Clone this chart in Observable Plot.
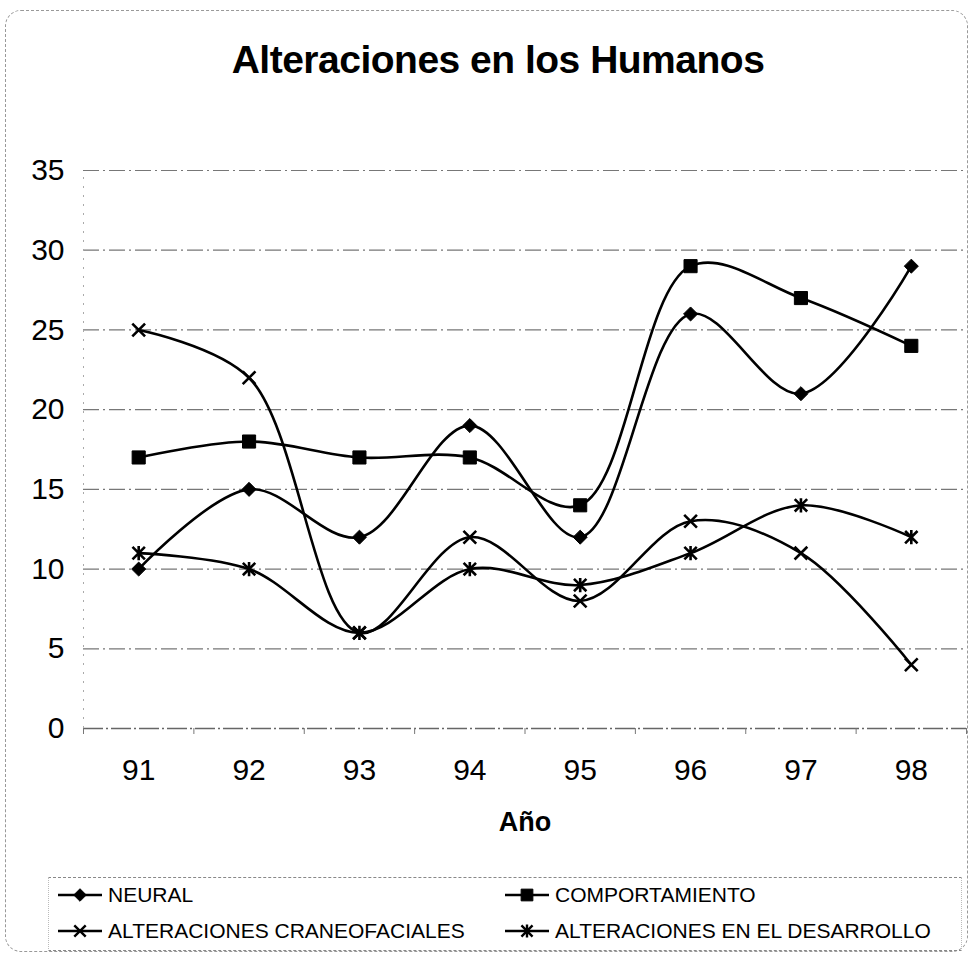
<!DOCTYPE html>
<html>
<head>
<meta charset="utf-8">
<script src="https://cdn.jsdelivr.net/npm/d3@7"></script>
<script src="https://cdn.jsdelivr.net/npm/@observablehq/plot@0.6"></script>
<style>
  html, body { margin: 0; padding: 0; background: #fff; }
  #wrap { position: relative; width: 975px; height: 957px; overflow: hidden; font-family: "Liberation Sans", Arial, sans-serif; color: #000; }
  #frame { position: absolute; left: 5px; top: 10px; width: 963px; height: 942px; border: 1px dashed #999; border-radius: 16px; box-sizing: border-box; }
  #title { position: absolute; left: 0; width: 996px; top: 40px; text-align: center; font-weight: bold; font-size: 39px; line-height: 39px; letter-spacing: -0.5px; }
  #xlabel { position: absolute; left: 0; width: 1050px; top: 807px; text-align: center; font-weight: bold; font-size: 27px; line-height: 30px; }
  #chart { position: absolute; left: 0; top: 0; }
  #legend { position: absolute; left: 48px; top: 877px; width: 914px; height: 74px; border-top: 1px dashed #888; border-bottom: 1px dashed #888; border-left: 1px dotted #bbb; border-right: 1px dotted #bbb; box-sizing: border-box; }
  .item { position: absolute; display: flex; align-items: center; font-size: 21px; line-height: 22px; white-space: nowrap; }
  .item svg { margin-right: 4px; }
</style>
</head>
<body>
<div id="wrap">
  <div id="frame"></div>
  <div id="title">Alteraciones en los Humanos</div>
  <div id="chart"></div>
  <div id="xlabel">Año</div>
  <div id="legend"></div>
</div>
<script>
// ---- data ----
const years = ["91", "92", "93", "94", "95", "96", "97", "98"];
const neural = [10, 15, 12, 19, 12, 26, 21, 29];
const comportamiento = [17, 18, 17, 17, 14, 29, 27, 24];
const craneofaciales = [25, 22, 6, 12, 8, 13, 11, 4];
const desarrollo = [11, 10, 6, 10, 9, 11, 14, 12];
const seriesNames = ["NEURAL", "COMPORTAMIENTO", "ALTERACIONES CRANEOFACIALES", "ALTERACIONES EN EL DESARROLLO"];
const yTicks = [0, 5, 10, 15, 20, 25, 30, 35];

// ---- custom symbols (Excel-like markers) ----
const symAsterisk = {
  draw(ctx, size) {
    const r = Math.sqrt(size) * 0.5;
    ctx.moveTo(-r, -r); ctx.lineTo(r, r);
    ctx.moveTo(-r, r); ctx.lineTo(r, -r);
    ctx.moveTo(0, -r * 1.15); ctx.lineTo(0, r * 1.15);
  }
};
const symTimes = {
  draw(ctx, size) {
    const r = Math.sqrt(size) * 0.5;
    ctx.moveTo(-r, -r); ctx.lineTo(r, r);
    ctx.moveTo(-r, r); ctx.lineTo(r, -r);
  }
};
const symDiamond = {
  draw(ctx, size) {
    const r = Math.sqrt(size) * 0.6;
    ctx.moveTo(0, -r); ctx.lineTo(r, 0); ctx.lineTo(0, r); ctx.lineTo(-r, 0); ctx.closePath();
  }
};
const symSquare = {
  draw(ctx, size) {
    const r = Math.sqrt(size) * 0.5;
    ctx.rect(-r, -r, 2 * r, 2 * r);
  }
};

const seriesValues = [neural, comportamiento, craneofaciales, desarrollo];
const seriesSymbols = [symDiamond, symSquare, symTimes, symAsterisk];
const seriesFilled = [true, true, false, false];
const seriesR = [6.6, 7.4, 7.2, 7.0];

const rows = [];
seriesNames.forEach((name, s) => {
  seriesValues[s].forEach((v, i) => rows.push({series: name, i, year: years[i], value: v}));
});

const bounds = d3.range(years.length + 1).map(k => k - 0.5);

const marks = [
  Plot.ruleY(yTicks.filter(v => v > 0), {stroke: "#777", strokeWidth: 1.2, strokeDasharray: "16,4,2,4"}),
  Plot.ruleY([0], {stroke: "#666", strokeWidth: 1.3, strokeDasharray: "20,3,2,3"}),
  Plot.ruleX([-0.5], {y1: 0, y2: 35, stroke: "#aaa", strokeWidth: 1, strokeDasharray: "2,7"}),
  Plot.ruleX(bounds, {y1: 0, y2: 0, insetBottom: -6, stroke: "#777", strokeWidth: 1}),
  Plot.axisY({ticks: yTicks, tickSize: 0, tickPadding: 19, fontSize: 30, label: null}),
  Plot.axisX({ticks: d3.range(years.length), tickFormat: i => years[i], tickSize: 0, tickPadding: 30, fontSize: 30, label: null})
];

seriesNames.forEach((name, s) => {
  const data = rows.filter(d => d.series === name);
  marks.push(Plot.line(data, {x: "i", y: "value", curve: "catmull-rom", stroke: "#000", strokeWidth: 2.6}));
});
seriesNames.forEach((name, s) => {
  const data = rows.filter(d => d.series === name);
  marks.push(Plot.dot(data, seriesFilled[s]
    ? {x: "i", y: "value", symbol: seriesSymbols[s], r: seriesR[s], fill: "#000", stroke: "#000", strokeWidth: 1}
    : {x: "i", y: "value", symbol: seriesSymbols[s], r: seriesR[s], fill: "none", stroke: "#000", strokeWidth: 2.6}));
});

const chart = Plot.plot({
  width: 975,
  height: 957,
  marginTop: 170,
  marginBottom: 229,
  marginLeft: 83,
  marginRight: 9,
  style: {fontFamily: "'Liberation Sans', Arial, sans-serif", color: "#000", background: "transparent", overflow: "visible"},
  x: {type: "linear", domain: [-0.5, years.length - 0.5], axis: null, label: null},
  y: {domain: [0, 35], axis: null, label: null},
  marks
});
document.getElementById("chart").appendChild(chart);

// ---- legend ----
const legend = document.getElementById("legend");
const positions = [[7, 6], [454, 6], [7, 42], [454, 42]];
seriesNames.forEach((name, s) => {
  const item = document.createElement("div");
  item.className = "item";
  item.style.left = positions[s][0] + "px";
  item.style.top = positions[s][1] + "px";
  const svg = d3.create("svg").attr("width", 48).attr("height", 22);
  svg.append("line").attr("x1", 2).attr("x2", 46).attr("y1", 11).attr("y2", 11).attr("stroke", "#000").attr("stroke-width", 2.6);
  const path = d3.symbol(seriesSymbols[s], seriesR[s] * seriesR[s] * Math.PI * 0.8)();
  svg.append("path").attr("d", path).attr("transform", "translate(24,11)")
    .attr("fill", seriesFilled[s] ? "#000" : "none").attr("stroke", "#000").attr("stroke-width", seriesFilled[s] ? 1 : 2.4);
  item.appendChild(svg.node());
  const span = document.createElement("span");
  span.textContent = name;
  item.appendChild(span);
  legend.appendChild(item);
});
</script>
</body>
</html>
